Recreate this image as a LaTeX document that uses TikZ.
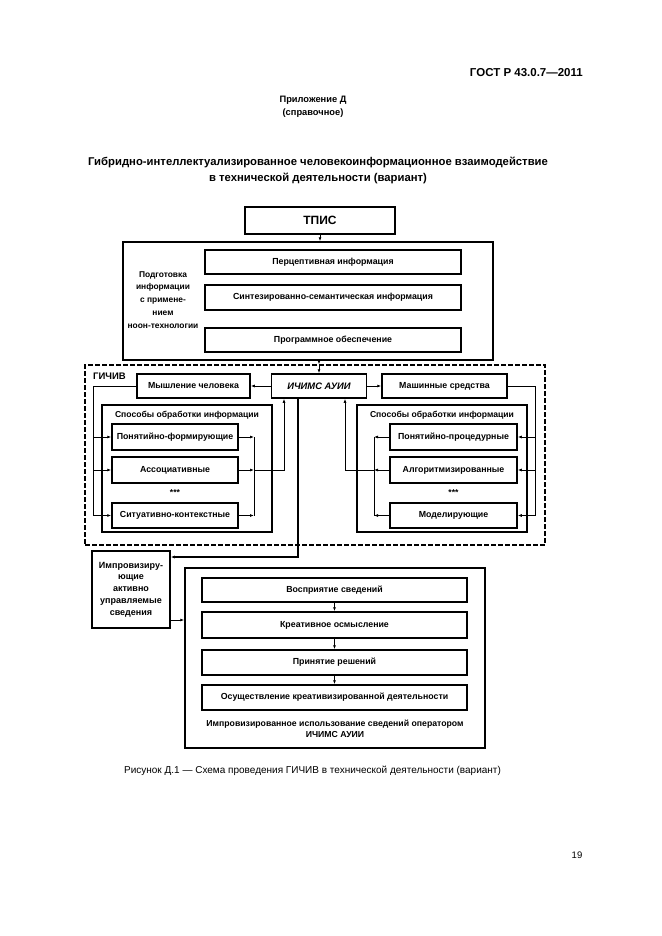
\documentclass[tikz,border=0pt]{standalone}
\usepackage{fontspec}
\setmainfont{Liberation Sans}
\usetikzlibrary{arrows.meta}
\begin{document}
\begin{tikzpicture}[x=1pt,y=-1pt,
  bx/.style={draw, line width=1.5pt, inner sep=1pt, align=center,
    font=\bfseries\fontsize{8.8}{10}\selectfont},
  lbl/.style={inner sep=0pt, align=center, font=\bfseries\fontsize{8.6}{10}\selectfont},
  ln/.style={line width=0.9pt},
  arr/.style={line width=0.9pt, -{Latex[length=4pt,width=3pt]}},
  dsh/.style={draw, line width=1.2pt, dash pattern=on 5pt off 2pt}
]
\useasboundingbox[fill=white] (0,0) rectangle (661,936);

% page texts
\node[anchor=east, inner sep=0pt, font=\bfseries\fontsize{11.5}{13}\selectfont] (gost) at (583,73) {ГОСТ Р 43.0.7—2011};
\node[inner sep=0pt, align=center, font=\bfseries\fontsize{9.3}{13}\selectfont] (pril) at (313,106.5) {Приложение Д\\(справочное)};
\node[inner sep=0pt, align=center, font=\bfseries\fontsize{11.3}{16}\selectfont] (title) at (318,170)
  {Гибридно-интеллектуализированное человекоинформационное взаимодействие\\в технической деятельности (вариант)};

% top part
\node[bx, minimum width=150pt, minimum height=27pt, font=\bfseries\fontsize{12}{14}\selectfont] (tpis) at (320,220.5) {ТПИС};
\node[bx, minimum width=370pt, minimum height=118pt] (podg) at (308,301) {};
\node[bx, minimum width=256pt, minimum height=24pt] (perc) at (333,262) {Перцептивная информация};
\node[bx, minimum width=256pt, minimum height=25pt] (sint) at (333,297.5) {Синтезированно-семантическая информация};
\node[bx, minimum width=256pt, minimum height=24pt] (prog) at (333,340) {Программное обеспечение};
\node[lbl, font=\bfseries\fontsize{8.4}{12.9}\selectfont] (podgt) at (163,300) {Подготовка\\информации\\с примене-\\нием\\ноон-технологии};

% GICHIV
\node[dsh, minimum width=460pt, minimum height=180pt, inner sep=0pt] (gich) at (315,455) {};
\node[lbl, font=\bfseries\fontsize{9.5}{11}\selectfont, anchor=west] (gicht) at (93,376) {ГИЧИВ};
\node[bx, minimum width=113pt, minimum height=24pt] (mysh) at (193.5,386) {Мышление человека};
\node[bx, minimum width=95pt, minimum height=24pt, font=\bfseries\itshape\fontsize{9.4}{11}\selectfont] (ich) at (319,386) {ИЧИМС АУИИ};
\node[bx, minimum width=125pt, minimum height=24pt] (mash) at (444.5,386) {Машинные средства};

\node[bx, minimum width=170pt, minimum height=127pt] (lsp) at (187,468.5) {};
\node[lbl] (lspt) at (187,415) {Способы обработки информации};
\node[bx, minimum width=126pt, minimum height=26pt] (pf) at (175,437) {Понятийно-формирующие};
\node[bx, minimum width=126pt, minimum height=26pt] (as) at (175,470) {Ассоциативные};
\node[lbl] (ls) at (175,493) {***};
\node[bx, minimum width=126pt, minimum height=25pt] (sk) at (175,515.5) {Ситуативно-контекстные};

\node[bx, minimum width=170pt, minimum height=127pt] (rsp) at (442,468.5) {};
\node[lbl] (rspt) at (442,415) {Способы обработки информации};
\node[bx, minimum width=127pt, minimum height=26pt] (pp) at (453.5,437) {Понятийно-процедурные};
\node[bx, minimum width=127pt, minimum height=26pt] (al) at (453.5,470) {Алгоритмизированные};
\node[lbl] (rs) at (453.5,493) {***};
\node[bx, minimum width=127pt, minimum height=25pt] (md) at (453.5,515.5) {Моделирующие};

% bottom part
\node[bx, minimum width=78pt, minimum height=77pt, font=\bfseries\fontsize{9}{11.8}\selectfont] (imp) at (131,589.5) {Импровизиру-\\ющие\\активно\\управляемые\\сведения};
\node[bx, minimum width=300pt, minimum height=180pt] (big) at (335,658) {};
\node[bx, minimum width=265pt, minimum height=24pt] (vos) at (334.5,590) {Восприятие сведений};
\node[bx, minimum width=265pt, minimum height=26pt] (kre) at (334.5,625) {Креативное осмысление};
\node[bx, minimum width=265pt, minimum height=25pt] (prin) at (334.5,662.5) {Принятие решений};
\node[bx, minimum width=265pt, minimum height=25pt] (osu) at (334.5,697.5) {Осуществление креативизированной деятельности};
\node[lbl, font=\bfseries\fontsize{8.7}{11}\selectfont] (bigt) at (335,729) {Импровизированное использование сведений оператором\\ИЧИМС АУИИ};

\node[inner sep=0pt, font=\fontsize{10}{12}\selectfont] (cap) at (312.5,771) {Рисунок  Д.1 — Схема проведения ГИЧИВ в технической деятельности (вариант)};
\node[inner sep=0pt, font=\fontsize{9.5}{11}\selectfont] (pg) at (577,855) {19};

% connectors top
\draw[arr] (tpis.south) -- (tpis.south |- podg.north);
\draw[arr] (ich.north |- podg.south) -- (ich.north |- gich.north);
\draw[arr] (ich.north |- gich.north) -- (ich.north);
\draw[arr] (ich.west) -- (mysh.east);
\draw[arr] (ich.east) -- (mash.west);

% left bus
\coordinate (lb) at (93,0);
\draw[ln] (mysh.west) -| (lb |- sk.west);
\draw[arr] (lb |- pf.west) -- (pf.west);
\draw[arr] (lb |- as.west) -- (as.west);
\draw[arr] (lb |- sk.west) -- (sk.west);
\coordinate (lr) at (254,0);
\draw[arr] (pf.east) -- (lr |- pf.east);
\draw[arr] (as.east) -- (lr |- as.east);
\draw[arr] (sk.east) -- (lr |- sk.east);
\draw[ln] (lr |- pf.east) -- (lr |- sk.east);
\coordinate (lu) at (284,0);
\draw[arr] (lr |- as.east) -| (lu |- ich.south);

% right bus
\coordinate (rb) at (535,0);
\draw[ln] (mash.east) -| (rb |- md.east);
\draw[arr] (rb |- pp.east) -- (pp.east);
\draw[arr] (rb |- al.east) -- (al.east);
\draw[arr] (rb |- md.east) -- (md.east);
\coordinate (rl) at (374,0);
\draw[arr] (pp.west) -- (rl |- pp.west);
\draw[arr] (al.west) -- (rl |- al.west);
\draw[arr] (md.west) -- (rl |- md.west);
\draw[ln] (rl |- pp.west) -- (rl |- md.west);
\coordinate (ru) at (345,0);
\draw[arr] (rl |- al.west) -| (ru |- ich.south);

% thick line to imp
\coordinate (tk) at (298,0);
\coordinate (tkb) at (298,557);
\draw[line width=1.6pt, -{Latex[length=4pt,width=3pt]}] (tk |- ich.south) -- (tkb) -- (tkb -| imp.east);
\draw[arr] ([yshift=-30.5pt]imp.east) -- ([yshift=-30.5pt]imp.east -| big.west);

% bottom arrows
\draw[arr] (vos.south) -- (kre.north);
\draw[arr] (kre.south) -- (prin.north);
\draw[arr] (prin.south) -- (osu.north);
\end{tikzpicture}
\end{document}
